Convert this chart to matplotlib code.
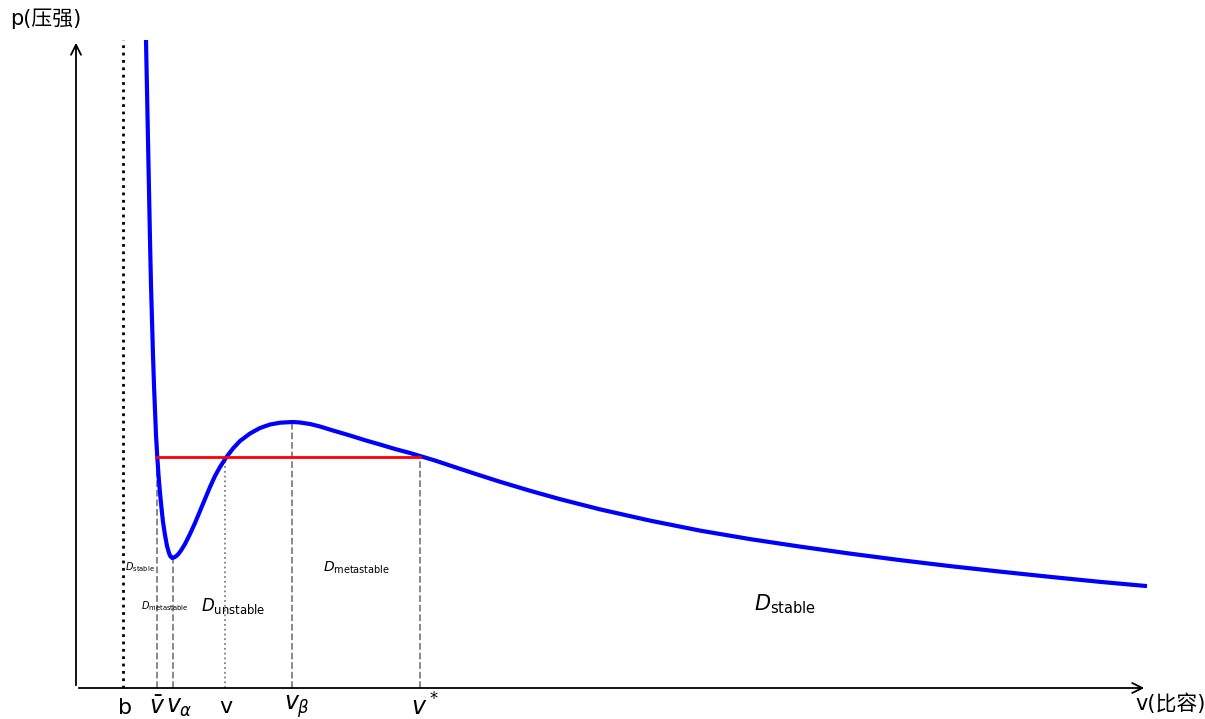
import matplotlib
matplotlib.use("Agg")
import matplotlib.pyplot as plt

plt.rcParams['font.family'] = ['DejaVu Sans', 'Noto Sans CJK SC']

# isotherm points (v, p)
v_curve = [0.70, 0.71, 0.72, 0.73, 0.74, 0.75, 0.76, 0.77, 0.78, 0.79, 0.80, 0.813,
           0.825, 0.84, 0.855, 0.87, 0.89, 0.91, 0.93, 0.945, 0.963, 0.99, 1.02, 1.05,
           1.09, 1.14, 1.19, 1.24, 1.29, 1.34, 1.39, 1.44, 1.505, 1.57, 1.64, 1.74,
           1.84, 1.94, 2.04, 2.17, 2.24, 2.34, 2.44, 2.57, 2.74, 2.90, 3.04, 3.19,
           3.34, 3.44, 3.59, 3.74, 3.99, 4.24, 4.54, 4.84, 5.24, 5.74, 6.24, 6.74,
           7.24, 7.74, 8.24, 8.74, 9.24, 9.74, 10.24, 10.71]
p_curve = [6.48, 5.98, 5.48, 4.98, 4.48, 4.03, 3.68, 3.33, 3.03, 2.78, 2.53, 2.31,
           2.13, 1.95, 1.80, 1.66, 1.53, 1.42, 1.35, 1.315, 1.30, 1.31, 1.335, 1.375,
           1.44, 1.54, 1.65, 1.77, 1.89, 2.01, 2.12, 2.21, 2.31, 2.395, 2.47, 2.545,
           2.60, 2.635, 2.653, 2.66, 2.655, 2.64, 2.615, 2.575, 2.525, 2.475, 2.435, 2.39,
           2.35, 2.32, 2.275, 2.225, 2.1425, 2.0625, 1.9725, 1.8885, 1.7865, 1.674, 1.574, 1.489,
           1.414, 1.344, 1.279, 1.219, 1.164, 1.1115, 1.0615, 1.019]

p_sat = 2.31
v_b = 0.47
v_bar = 0.81
v_alpha = 0.97
v_mid = 1.49
v_beta = 2.16
v_star = 3.44
p_alpha = 1.30
p_beta = 2.66

fig = plt.figure(figsize=(12.05, 7.19), dpi=100)
ax = fig.add_axes([0, 0, 1, 1])
ax.set_xlim(-0.76, 11.29)
ax.set_ylim(-0.31, 6.88)
ax.axis('off')

# axes with arrows
ax.annotate('', xy=(10.71, 0), xytext=(0, 0),
            arrowprops=dict(arrowstyle='->', lw=1.3, color='black', mutation_scale=18))
ax.annotate('', xy=(0, 6.48), xytext=(0, 0),
            arrowprops=dict(arrowstyle='->', lw=1.3, color='black', mutation_scale=18))

# b asymptote
ax.plot([v_b, v_b], [0, 6.48], color='black', ls=':', lw=2)

# vertical guide lines
ax.plot([v_bar, v_bar], [0, p_sat], color='gray', ls='--', lw=1.3)
ax.plot([v_alpha, v_alpha], [0, p_alpha], color='gray', ls='--', lw=1.3)
ax.plot([v_mid, v_mid], [0, p_sat], color='gray', ls=':', lw=1.3)
ax.plot([v_beta, v_beta], [0, p_beta], color='gray', ls='--', lw=1.3)
ax.plot([v_star, v_star], [0, p_sat], color='gray', ls='--', lw=1.3)

# isotherm and saturation line
ax.plot(v_curve, p_curve, color='blue', lw=3, solid_capstyle='butt',
        solid_joinstyle='round')
ax.plot([v_bar, v_star], [p_sat, p_sat], color='red', lw=2)

# tick labels on v-axis
ax.text(v_b + 0.02, -0.2, 'b', fontsize=16, ha='center', va='center')
ax.text(v_bar, -0.19, r'$\bar{v}$', fontsize=17, ha='center', va='center')
ax.text(v_alpha + 0.06, -0.19, r'$v_\alpha$', fontsize=17, ha='center', va='center')
ax.text(v_mid + 0.01, -0.19, 'v', fontsize=16, ha='center', va='center')
ax.text(v_beta + 0.05, -0.19, r'$v_\beta$', fontsize=17, ha='center', va='center')
ax.text(v_star + 0.05, -0.19, r'$v^*$', fontsize=17, ha='center', va='center')

# axis names
ax.text(-0.66, 6.69, 'p(压强)', fontsize=15, ha='left', va='center')
ax.text(10.59, -0.16, 'v(比容)', fontsize=15, ha='left', va='center')

# region labels
ax.text(7.09, 0.84, r'$D_{\mathrm{stable}}$', fontsize=15, ha='center', va='center')
ax.text(2.81, 1.2, r'$D_{\mathrm{metastable}}$', fontsize=10, ha='center', va='center')
ax.text(1.57, 0.82, r'$D_{\mathrm{unstable}}$', fontsize=12, ha='center', va='center')
ax.text(0.89, 0.82, r'$D_{\mathrm{metastable}}$', fontsize=7, ha='center', va='center')
ax.text(0.64, 1.21, r'$D_{\mathrm{stable}}$', fontsize=7, ha='center', va='center')

fig.savefig('out.png', dpi=100)
